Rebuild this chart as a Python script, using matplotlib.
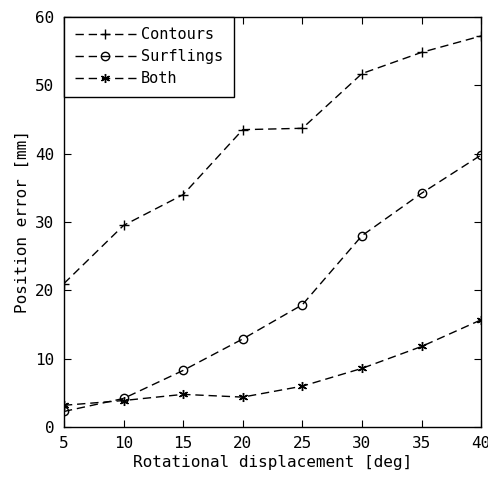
import numpy as np
import matplotlib
matplotlib.use("Agg")
import matplotlib.pyplot as plt
from matplotlib import rcParams

rcParams['font.family'] = 'DejaVu Sans Mono'
rcParams['font.size'] = 11.5
rcParams['axes.linewidth'] = 1.0

angles = [5, 10, 15, 20, 25, 30, 35, 40]
contours = [21.0, 29.5, 34.0, 43.5, 43.7, 51.7, 54.8, 57.2]
surflings = [2.3, 4.2, 8.3, 12.9, 17.9, 28.0, 34.2, 39.8]
both = [3.2, 3.9, 4.8, 4.4, 6.0, 8.6, 11.8, 15.7]

fig = plt.figure(figsize=(4.88, 4.80), dpi=100)
ax = fig.add_axes([0.131, 0.110, 0.855, 0.855])

dash = (0, (6, 3.5))
ax.plot(angles, contours, color='k', linestyle=dash, linewidth=1.0,
        marker='+', markersize=7.5, markeredgewidth=1.0, label='Contours')
ax.plot(angles, surflings, color='k', linestyle=dash, linewidth=1.0,
        marker='o', markersize=6, markerfacecolor='none', markeredgewidth=1.0,
        label='Surflings')
ax.plot(angles, both, color='k', linestyle=dash, linewidth=1.0,
        marker=(6, 2, 0), markersize=6.5, markeredgewidth=1.0, label='Both')

ax.set_xlim(5, 40)
ax.set_ylim(0, 60)
ax.set_xticks(angles)
ax.set_yticks(np.arange(0, 61, 10))
ax.tick_params(direction='in', top=True, right=True, length=5, labelsize=11.5)
ax.tick_params(axis='y', pad=7)
ax.tick_params(axis='x', pad=6)
ax.set_xlabel('Rotational displacement [deg]', fontsize=11.5, labelpad=3)
ax.set_ylabel('Position error [mm]', fontsize=11.5, labelpad=4)

leg = ax.legend(loc='upper left', fancybox=False, framealpha=1, edgecolor='k',
                borderaxespad=0.0, handlelength=4.0, borderpad=0.7,
                labelspacing=0.45, handletextpad=0.35, fontsize=11)
leg.get_frame().set_linewidth(1.0)

fig.savefig('out.png', dpi=100)
